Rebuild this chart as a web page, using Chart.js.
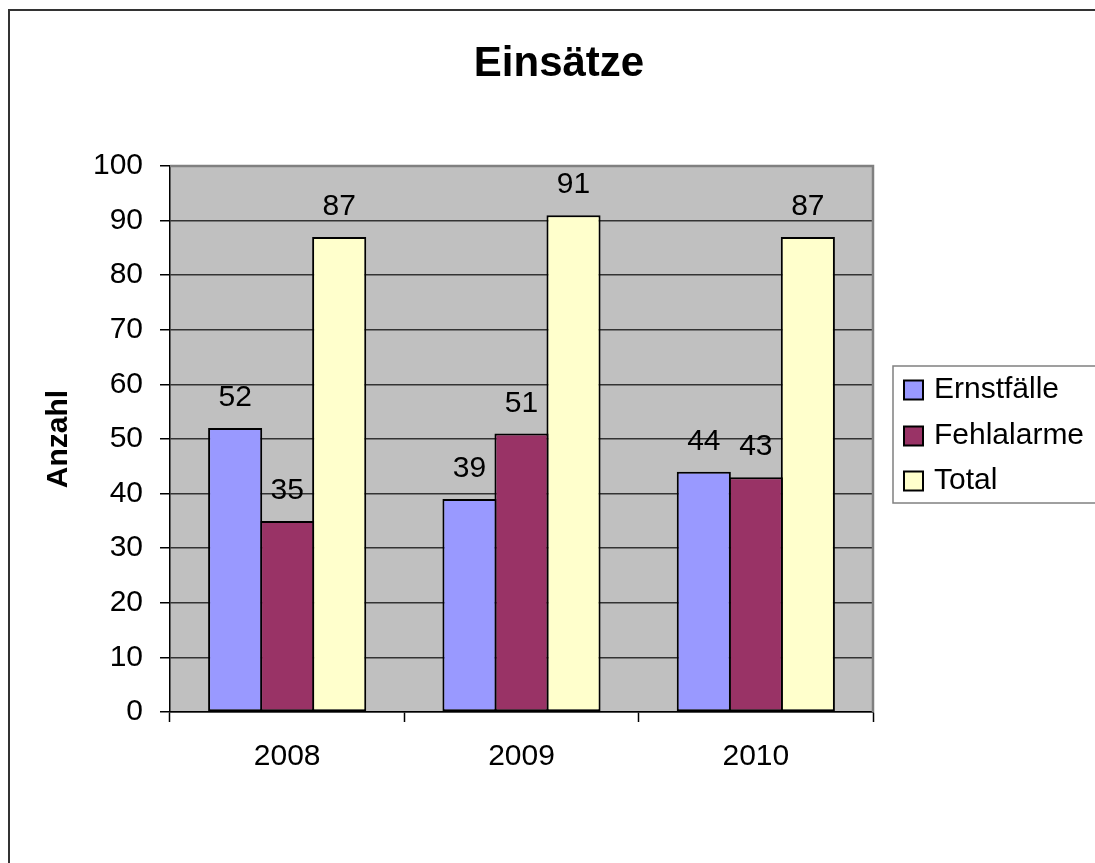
<!DOCTYPE html>
<html>
<head>
<meta charset="utf-8">
<script src="https://cdn.jsdelivr.net/npm/chart.js@4/dist/chart.umd.min.js"></script>
<style>
  html, body { margin: 0; padding: 0; background: #ffffff; }
  canvas { display: block; }
</style>
</head>
<body>
<canvas id="chart" width="1095" height="863"></canvas>
<script>
// Einsätze per year
const years = ['2008', '2009', '2010'];
const ernstfaelle = [52, 39, 44];
const fehlalarme = [35, 51, 43];
const total = [87, 91, 87];
const seriesNames = ['Ernstfälle', 'Fehlalarme', 'Total'];
const seriesColors = ['#9999FF', '#993366', '#FFFFCC'];
const chartTitle = 'Einsätze';
const yAxisTitle = 'Anzahl';
const yMin = 0, yMax = 100, yStep = 10;

const FONT = 'Arial, "Liberation Sans", sans-serif';

// White page, outer frame, title and grey plot background
const framePlugin = {
  id: 'frame',
  beforeDraw(chart) {
    const { ctx, chartArea: a } = chart;
    ctx.save();
    ctx.fillStyle = '#ffffff';
    ctx.fillRect(0, 0, chart.width, chart.height);
    ctx.strokeStyle = '#333333';
    ctx.lineWidth = 2;
    ctx.beginPath();
    ctx.moveTo(9, chart.height + 2);
    ctx.lineTo(9, 10);
    ctx.lineTo(chart.width + 2, 10);
    ctx.stroke();
    ctx.fillStyle = '#C0C0C0';
    ctx.fillRect(a.left, a.top, a.right - a.left, a.bottom - a.top);
    ctx.fillStyle = '#000000';
    ctx.font = 'bold 42px ' + FONT;
    ctx.textAlign = 'center';
    ctx.textBaseline = 'middle';
    ctx.fillText(chartTitle, 559, 64);
    ctx.restore();
  },
  beforeDatasetsDraw(chart) {
    const { ctx, chartArea: a } = chart;
    ctx.save();
    ctx.strokeStyle = '#808080';
    ctx.lineWidth = 2.5;
    ctx.beginPath();
    ctx.moveTo(a.left, a.top);
    ctx.lineTo(a.right, a.top);
    ctx.lineTo(a.right, a.bottom);
    ctx.stroke();
    ctx.restore();
  }
};

// Value labels above each bar
const valueLabelPlugin = {
  id: 'valueLabels',
  afterDatasetsDraw(chart) {
    const { ctx } = chart;
    ctx.save();
    ctx.fillStyle = '#000000';
    ctx.font = '30px ' + FONT;
    ctx.textAlign = 'center';
    ctx.textBaseline = 'alphabetic';
    chart.data.datasets.forEach((ds, i) => {
      const meta = chart.getDatasetMeta(i);
      meta.data.forEach((bar, j) => {
        ctx.fillText(String(ds.data[j]), bar.x, bar.y - 22);
      });
    });
    ctx.restore();
  }
};

// Boxed legend to the right of the plot
const legendBoxPlugin = {
  id: 'legendBox',
  afterDraw(chart) {
    const { ctx } = chart;
    const boxLeft = 893, boxTop = 366, boxH = 137;
    ctx.save();
    ctx.strokeStyle = '#808080';
    ctx.lineWidth = 1.5;
    ctx.strokeRect(boxLeft, boxTop, 300, boxH);
    ctx.font = '30px ' + FONT;
    ctx.textAlign = 'left';
    ctx.textBaseline = 'middle';
    const rowY = [390, 436, 481];
    chart.data.datasets.forEach((ds, i) => {
      const y = rowY[i];
      ctx.fillStyle = ds.backgroundColor;
      ctx.fillRect(904, y - 9.5, 19, 19);
      ctx.strokeStyle = '#000000';
      ctx.lineWidth = 2;
      ctx.strokeRect(904, y - 9.5, 19, 19);
      ctx.fillStyle = '#000000';
      ctx.fillText(ds.label, 934, y);
    });
    ctx.restore();
  }
};

const seriesData = [ernstfaelle, fehlalarme, total];

new Chart(document.getElementById('chart'), {
  type: 'bar',
  data: {
    labels: years,
    datasets: seriesNames.map((name, i) => ({
      label: name,
      data: seriesData[i],
      backgroundColor: seriesColors[i],
      borderColor: '#000000',
      borderWidth: 2,
      borderSkipped: false,
      // slight overlap so neighbouring bars share one outline
      barPercentage: 1.04,
      categoryPercentage: 0.666
    }))
  },
  options: {
    responsive: false,
    animation: false,
    devicePixelRatio: 1,
    layout: { padding: { left: 0, top: 166, right: 222, bottom: 0 } },
    plugins: {
      legend: { display: false },
      title: { display: false },
      tooltip: { enabled: false }
    },
    scales: {
      x: {
        grid: {
          offset: true,
          drawOnChartArea: false,
          drawTicks: true,
          tickLength: 10,
          tickColor: '#000000',
          tickWidth: 1.5
        },
        border: { color: '#000000', width: 1.5 },
        ticks: {
          color: '#000000',
          font: { family: FONT, size: 30 },
          padding: 17,
          maxRotation: 0
        },
        afterFit(scale) { scale.height = 151; }
      },
      y: {
        min: yMin,
        max: yMax,
        grid: {
          color: '#333333',
          lineWidth: 1.5,
          drawTicks: true,
          tickLength: 10,
          tickColor: '#000000',
          tickWidth: 1.5
        },
        border: { color: '#000000', width: 1.5 },
        ticks: {
          stepSize: yStep,
          color: '#000000',
          font: { family: FONT, size: 30 },
          padding: 17
        },
        title: {
          display: true,
          text: yAxisTitle,
          color: '#000000',
          font: { family: FONT, size: 30, weight: 'bold' },
          padding: { top: 41, bottom: 0 }
        },
        afterFit(scale) { scale.width = 170; }
      }
    }
  },
  plugins: [framePlugin, valueLabelPlugin, legendBoxPlugin]
});
</script>
</body>
</html>
